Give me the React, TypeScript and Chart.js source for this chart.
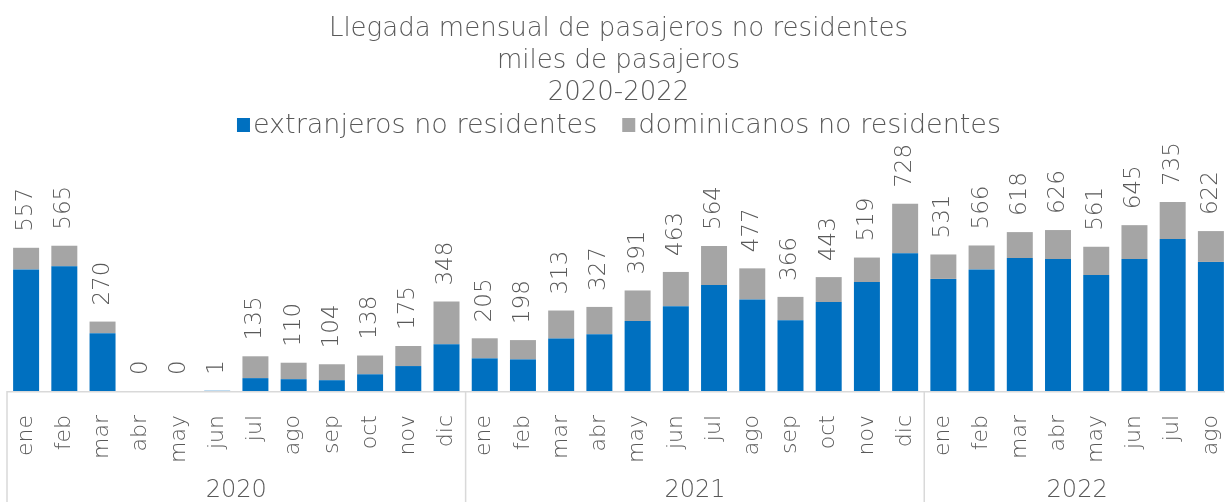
import React, { useEffect, useRef } from "react";
import { Chart, registerables } from "chart.js";

Chart.register(...registerables);

const months = [
  "ene", "feb", "mar", "abr", "may", "jun", "jul", "ago", "sep", "oct", "nov", "dic",
  "ene", "feb", "mar", "abr", "may", "jun", "jul", "ago", "sep", "oct", "nov", "dic",
  "ene", "feb", "mar", "abr", "may", "jun", "jul", "ago",
];
const years = ["2020", "2021", "2022"];
const yearCounts = [12, 12, 8];

const extranjeros = [
  473, 485, 225, 0, 0, 1, 50, 46, 42, 65, 97, 182,
  127, 123, 204, 221, 272, 330, 412, 356, 275, 346, 424, 536,
  436, 473, 517, 513, 451, 513, 591, 502,
];
const dominicanos = [
  84, 80, 45, 0, 0, 0, 85, 64, 62, 73, 78, 166,
  78, 75, 109, 106, 119, 133, 152, 121, 91, 97, 95, 192,
  95, 93, 101, 113, 110, 132, 144, 120,
];

const titleLines = ["Llegada mensual de pasajeros no residentes", "miles de pasajeros", "2020-2022"];
const seriesNames = ["extranjeros no residentes", "dominicanos no residentes"];
const seriesColors = ["#0070C0", "#A5A5A5"];

const FONT = '"DejaVu Sans"';
const TEXT = "#595959";

export default function App() {
  const ref = useRef<HTMLCanvasElement | null>(null);
  useEffect(() => {
    if (!ref.current) return;
    const overlay = {
      id: "overlay",
      afterDatasetsDraw(chart: any) {
        const { ctx, scales } = chart;
        const x = scales.x, y = scales.y;
        ctx.save();
        ctx.fillStyle = TEXT;
        ctx.font = `200 23px ${FONT}`;
        ctx.textAlign = "left";
        ctx.textBaseline = "middle";
        for (let i = 0; i < months.length; i++) {
          const total = extranjeros[i] + dominicanos[i];
          const px = x.getPixelForValue(i);
          const py = y.getPixelForValue(total) - 16;
          ctx.save();
          ctx.translate(px, py);
          ctx.rotate(-Math.PI / 2);
          ctx.fillText(String(total), 0, 0);
          ctx.restore();
        }
        ctx.restore();
      },
      afterDraw(chart: any) {
        const { ctx, scales, chartArea, width, height } = chart;
        const x = scales.x;
        const bottom = chartArea.bottom;
        ctx.save();
        // legend
        ctx.font = `200 27px ${FONT}`;
        ctx.textBaseline = "middle";
        ctx.textAlign = "left";
        const box = 13, gap = 3, spacing = 25, legendY = 125;
        const w0 = ctx.measureText(seriesNames[0]).width;
        const w1 = ctx.measureText(seriesNames[1]).width;
        const total = box + gap + w0 + spacing + box + gap + w1;
        let lx = 619 - total / 2;
        for (let k = 0; k < 2; k++) {
          ctx.fillStyle = seriesColors[k];
          ctx.fillRect(lx, legendY - 7, box, 14);
          ctx.fillStyle = TEXT;
          ctx.fillText(seriesNames[k], lx + box + gap, legendY + 1);
          lx += box + gap + (k === 0 ? w0 : w1) + spacing;
        }
        // axis
        ctx.strokeStyle = "#D9D9D9";
        ctx.lineWidth = 1.5;
        ctx.beginPath();
        ctx.moveTo(chartArea.left, bottom + 0.75);
        ctx.lineTo(width, bottom + 0.75);
        ctx.stroke();
        let start = 0;
        const seps: number[] = [chartArea.left];
        ctx.fillStyle = TEXT;
        ctx.font = `200 24px ${FONT}`;
        ctx.textAlign = "center";
        ctx.textBaseline = "middle";
        for (let g = 0; g < years.length; g++) {
          const end = start + yearCounts[g] - 1;
          const cx = (x.getPixelForValue(start) + x.getPixelForValue(end)) / 2;
          ctx.fillText(years[g], cx, 491);
          if (g < years.length - 1) {
            seps.push((x.getPixelForValue(end) + x.getPixelForValue(end + 1)) / 2);
          }
          start = end + 1;
        }
        ctx.beginPath();
        for (const sx of seps) {
          ctx.moveTo(sx, bottom);
          ctx.lineTo(sx, height);
        }
        ctx.stroke();
        ctx.restore();
      },
    };
    const chart = new Chart(ref.current, {
      type: "bar",
      data: {
        labels: months,
        datasets: [
          { label: seriesNames[0], data: extranjeros, backgroundColor: seriesColors[0], barPercentage: 0.68, categoryPercentage: 1 },
          { label: seriesNames[1], data: dominicanos, backgroundColor: seriesColors[1], barPercentage: 0.68, categoryPercentage: 1 },
        ],
      },
      options: {
        responsive: false,
        animation: false,
        layout: { padding: { left: 7, right: 0, top: 0, bottom: 0 } },
        plugins: {
          title: {
            display: true,
            text: titleLines,
            color: TEXT,
            font: { family: FONT, size: 26, weight: "200" as any, lineHeight: 32 / 26 },
            padding: { top: 13, bottom: 38 },
          },
          legend: { display: false },
          tooltip: { enabled: false },
        },
        scales: {
          x: {
            stacked: true,
            grid: { display: false, drawTicks: false },
            border: { display: false },
            ticks: {
              color: TEXT,
              font: { family: FONT, size: 22, weight: "200" as any },
              minRotation: 90,
              maxRotation: 90,
              padding: 24,
              autoSkip: false,
            },
            afterFit: (s: any) => {
              s.height = 111;
              s.paddingLeft = 0;
              s.paddingRight = 0;
            },
          },
          y: {
            stacked: true,
            display: false,
            min: 0,
            max: 949,
          },
        },
      },
      plugins: [overlay],
    });
    return () => chart.destroy();
  }, []);
  return (
    <div style={{ position: "absolute", left: 0, top: 0, width: 1225, height: 502, overflow: "hidden", background: "#fff" }}>
      <canvas ref={ref} width={1230} height={502} />
    </div>
  );
}
